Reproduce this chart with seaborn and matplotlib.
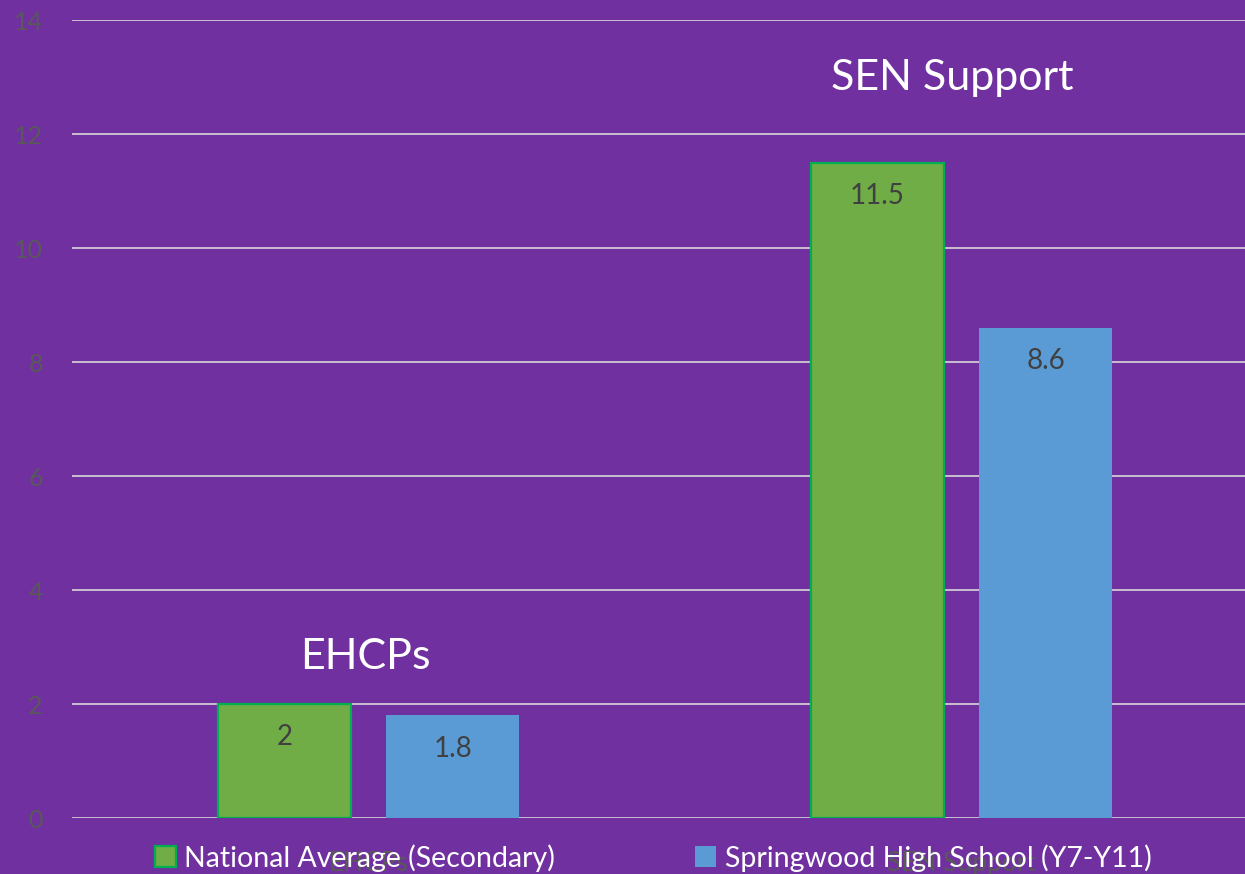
import matplotlib
matplotlib.use("Agg")
import matplotlib.pyplot as plt
from matplotlib.patches import Patch
import seaborn as sns
import pandas as pd

# ---- data ----
categories = ["EHCPs", "SEN Support"]
series_names = ["National Average (Secondary)", "Springwood High School (Y7-Y11)"]
national = [2, 11.5]
springwood = [1.8, 8.6]
y_ticks = [0, 2, 4, 6, 8, 10, 12, 14]

# ---- style ----
BG = "#7030A0"
GREEN = "#70AD47"
GREEN_EDGE = "#00B050"
BLUE = "#5B9BD5"
GRID = "#D9D9D9"
TICK = "#595959"
LABEL = "#404040"

sns.set_theme(style="white")
plt.rcParams["font.family"] = ["Lato", "DejaVu Sans"]

df = pd.DataFrame({
    "Category": categories * 2,
    "Series": [series_names[0]] * len(categories) + [series_names[1]] * len(categories),
    "Value": national + springwood,
})

fig = plt.figure(figsize=(12.45, 8.74), dpi=100, facecolor=BG)
ax = fig.add_axes([72 / 1245, 56 / 874, 1186 / 1245, 798 / 874])
ax.set_facecolor(BG)

sns.barplot(data=df, x="Category", y="Value", hue="Series",
            hue_order=series_names, order=categories,
            palette=[GREEN, BLUE], saturation=1, width=0.568, gap=0.21,
            legend=False, ax=ax, zorder=3)

# green bars get a green outline
for bar in ax.containers[0]:
    bar.set_edgecolor(GREEN_EDGE)
    bar.set_linewidth(1.6)
for bar in ax.containers[1]:
    bar.set_linewidth(0)

# value labels inside the bar tops
for cont in ax.containers:
    for bar in cont:
        h = bar.get_height()
        ax.annotate(f"{h:g}", xy=(bar.get_x() + bar.get_width() / 2, h),
                    xytext=(0, -24), textcoords="offset points",
                    ha="center", va="center", fontsize=20, color=LABEL, zorder=5)

ax.set_ylim(0, 14)
ax.set_xlim(-0.5, 1.5)
ax.set_yticks(y_ticks)
ax.yaxis.grid(True, color=GRID, linewidth=1.2, zorder=0)
ax.set_axisbelow(True)
for s in ax.spines.values():
    s.set_visible(False)
ax.tick_params(axis="y", length=0, pad=21, labelsize=18, labelcolor=TICK)
ax.tick_params(axis="x", length=0, pad=24, labelsize=19, labelcolor=TICK)
ax.set_xlabel("")
ax.set_ylabel("")

# big white group titles
title_x_shift = [-0.005, -0.015]
title_y = [2.82, 12.98]
for i, cat in enumerate(categories):
    ax.text(i + title_x_shift[i], title_y[i], cat, ha="center", va="center",
            fontsize=31, color="white", zorder=6)

handles = [Patch(facecolor=GREEN, edgecolor=GREEN_EDGE, linewidth=1.6),
           Patch(facecolor=BLUE, edgecolor=BLUE, linewidth=0)]
leg = ax.legend(handles, series_names, loc="center", ncol=2,
                bbox_to_anchor=(653 / 1245, 16 / 874), bbox_transform=fig.transFigure,
                frameon=False, fontsize=20.5, labelcolor="white",
                handlelength=0.75, handleheight=0.75, handletextpad=0.3,
                columnspacing=4.9)
leg.set_zorder(10)

fig.savefig("out.png", dpi=100, facecolor=BG)
